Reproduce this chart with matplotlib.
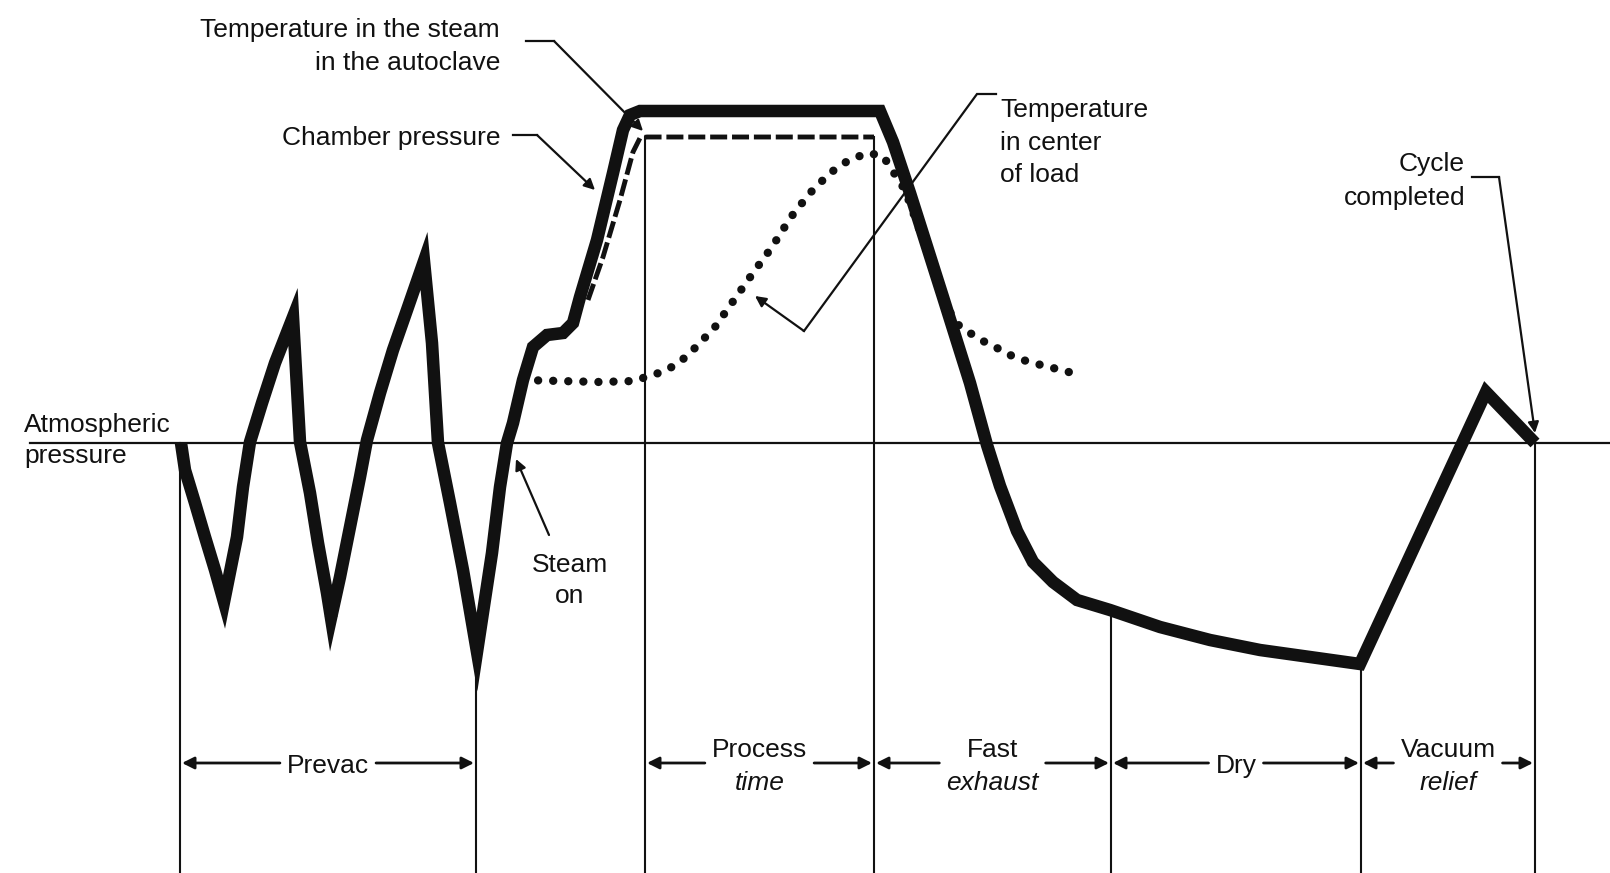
import numpy as np
import matplotlib
matplotlib.use('Agg')
import matplotlib.pyplot as plt
from matplotlib import font_manager

# Coordinates: t = position along the cycle (left -> right),
# level = height above the atmospheric-pressure line (0)

# Chamber pressure (heavy line)
pressure_t = [181, 185, 195, 205, 215, 224,                 # first pull
              237, 243, 250, 262, 275, 293,                 # first pulse
              300, 310, 318, 327, 331,                      # second pull
              340, 350, 360, 367, 380, 393, 407, 424,       # second pulse
              432, 438, 450, 463, 477,                      # third pull
              492, 500, 507, 513, 523, 533, 547,            # steam on
              563, 573, 580, 597, 613, 623, 630, 640,       # come-up
              880,                                          # process
              893, 910, 943, 970, 987, 1000, 1017, 1033,    # fast exhaust
              1053, 1077, 1110,
              1160, 1210, 1260, 1310, 1360,                 # dry
              1486, 1535]                                   # vacuum relief
pressure_lv = [0, -27, -60, -94, -127, -159,
               -94, -44, 1, 40, 80, 126,
               1, -50, -100, -150, -175,
               -134, -84, -34, 3, 50, 93, 133, 182,
               100, 0, -60, -127, -209,
               -110, -44, 0, 20, 63, 96, 108,
               110, 120, 146, 203, 270, 313, 328, 332,
               332,
               301, 250, 146, 60, -2, -43, -88, -119,
               -139, -157, -167,
               -184, -197, -207, -214, -221,
               51, 0]

# Temperature in the steam (dashed)
steam_t = [588, 603, 620, 633, 640, 647, 874]
steam_lv = [143, 186, 243, 291, 305, 306, 306]

# Temperature in center of load (dotted)
load_t = [523, 560, 600, 634, 646, 665, 680, 696, 715, 734,
          753, 772, 791, 810, 830, 849, 868, 883, 905, 925,
          943, 957, 970, 983, 997, 1010, 1023, 1037, 1050, 1063,
          1080]
load_lv = [63, 62, 61, 62, 66, 72, 81, 96, 116, 143,
           170, 196, 226, 250, 270, 283, 290, 287, 253, 198,
           143, 119, 110, 102, 95, 88, 83, 79, 76, 72,
           69]

# Phase boundaries and named phases (second line is italic)
boundaries = [180, 476, 645, 874, 1111, 1361, 1535]
phase_start = [180, 645, 874, 1111, 1361]
phase_end = [476, 874, 1111, 1361, 1535]
phase_top = ['Prevac', 'Process', 'Fast', 'Dry', 'Vacuum']
phase_bottom = [None, 'time', 'exhaust', None, 'relief']

# ---------------------------------------------------------------
available = {f.name for f in font_manager.fontManager.ttflist}
if 'Liberation Sans Narrow' in available:
    FONT = ['Liberation Sans Narrow', 'DejaVu Sans']
    FS = 22
else:
    FONT = ['Liberation Sans', 'DejaVu Sans']
    FS = 19

INK = '#111111'


def ROW(r):
    # picture row -> level
    return 443 - r


fig = plt.figure(figsize=(16.1, 8.73), dpi=100)
fig.patch.set_facecolor('white')
ax = fig.add_axes([0, 0, 1, 1])
ax.set_xlim(0, 1610)
ax.set_ylim(ROW(873), ROW(0))
ax.axis('off')

# atmospheric line
ax.plot([30, 1610], [0, 0], color=INK, lw=1.6, zorder=2)

# boundary verticals, up to the curve they meet
for b in boundaries:
    if steam_t[0] <= b <= steam_t[-1]:
        top = np.interp(b, steam_t, steam_lv)
    else:
        top = np.interp(b, pressure_t, pressure_lv)
    ax.plot([b, b], [ROW(873), top], color=INK, lw=1.5, zorder=2)

# curves
ax.plot(load_t, load_lv, color=INK, lw=6, linestyle=(0, (0.01, 1.8)),
        dash_capstyle='round', zorder=3)
ax.plot(steam_t, steam_lv, color=INK, lw=3.5, linestyle=(0, (3.5, 1.0)),
        zorder=3)
ax.plot(pressure_t, pressure_lv, color=INK, lw=9, solid_joinstyle='miter',
        solid_capstyle='butt', zorder=4)


def text_lines(x, baselines, lines, ha='left', styles=None):
    out = []
    for i, (b, s) in enumerate(zip(baselines, lines)):
        st = styles[i] if styles else 'normal'
        out.append(ax.text(x, ROW(b), s, ha=ha, va='baseline', fontsize=FS,
                           family=FONT, style=st, color=INK, zorder=6))
    return out


def leader(points):
    xs = [p[0] for p in points]
    ys = [ROW(p[1]) for p in points]
    ax.plot(xs[:-1], ys[:-1], color=INK, lw=1.6, zorder=5,
            solid_joinstyle='miter')
    ax.annotate('', xy=(xs[-1], ys[-1]), xytext=(xs[-2], ys[-2]),
                arrowprops=dict(arrowstyle='-|>', color=INK, lw=1.6,
                                mutation_scale=16, shrinkA=0, shrinkB=0),
                zorder=5)


# callouts
text_lines(500, [37, 70], ['Temperature in the steam', 'in the autoclave'], ha='right')
leader([(526, 41), (554, 41), (643, 131)])

text_lines(500, [145], ['Chamber pressure'], ha='right')
leader([(513, 135), (537, 135), (595, 190)])

text_lines(1000, [117, 150, 182], ['Temperature', 'in center', 'of load'])
leader([(996, 94), (977, 94), (804, 331), (755, 296)])

text_lines(1465, [171, 205], ['Cycle', 'completed'], ha='right')
leader([(1472, 177), (1499, 177), (1535, 433)])

text_lines(24, [432, 463], ['Atmospheric', 'pressure'])

text_lines(570, [572, 603], ['Steam', 'on'], ha='center')
leader([(549, 535), (516, 459)])

# phase labels with dimension arrows
labels = []
for s, e, top_s, bot_s in zip(phase_start, phase_end, phase_top, phase_bottom):
    cx = (s + e) / 2
    if bot_s is None:
        labels.append(text_lines(cx, [773], [top_s], ha='center'))
    else:
        labels.append(text_lines(cx, [757, 790], [top_s, bot_s], ha='center',
                                 styles=['normal', 'italic']))

fig.canvas.draw()
renderer = fig.canvas.get_renderer()
inv = ax.transData.inverted()
arrow_y = ROW(763)
for s, e, texts in zip(phase_start, phase_end, labels):
    x0 = min(inv.transform(t.get_window_extent(renderer))[0][0] for t in texts)
    x1 = max(inv.transform(t.get_window_extent(renderer))[1][0] for t in texts)
    for start, end in [(x0 - 7, s + 2), (x1 + 7, e - 2)]:
        ax.annotate('', xy=(end, arrow_y), xytext=(start, arrow_y),
                    arrowprops=dict(arrowstyle='-|>', color=INK, lw=2,
                                    mutation_scale=18, shrinkA=0, shrinkB=0))

fig.savefig('out.png', dpi=100, facecolor='white')
